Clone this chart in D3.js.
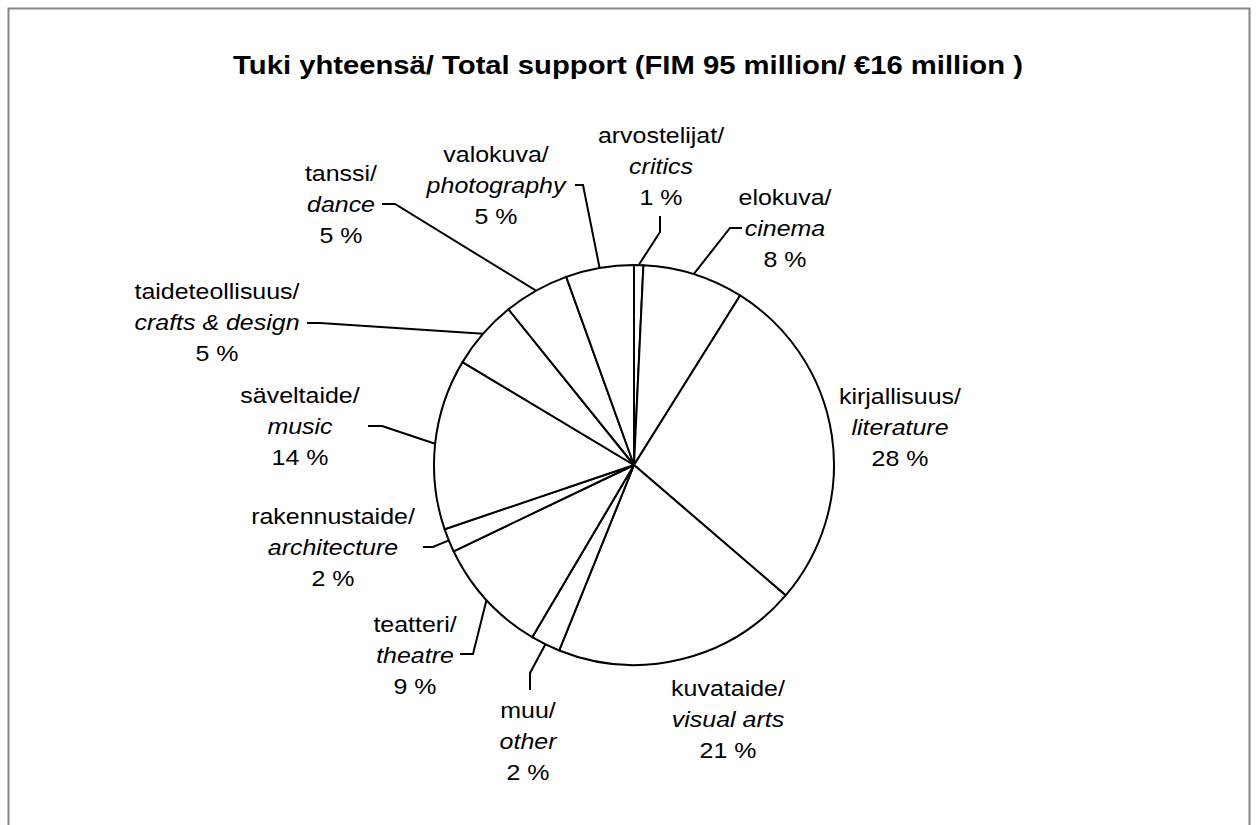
<!DOCTYPE html>
<html>
<head>
<meta charset="utf-8">
<script src="https://cdn.jsdelivr.net/npm/d3@7"></script>
<style>
    body { margin: 0; background: #fff; }
    text { font-family: "Liberation Sans", Arial, sans-serif; fill: #000; }
</style>
</head>
<body>
<div id="chart"></div>
<script>
// data
var categoriesFi = ["arvostelijat/", "elokuva/", "kirjallisuus/", "kuvataide/", "muu/", "teatteri/",
    "rakennustaide/", "säveltaide/", "taideteollisuus/", "tanssi/", "valokuva/"];
var categoriesEn = ["critics", "cinema", "literature", "visual arts", "other", "theatre",
    "architecture", "music", "crafts & design", "dance", "photography"];
var shares = [0.75, 8.15, 27.4, 19.8, 2.4, 9.4, 1.9, 13.8, 5.6, 5.3, 5.5];
var percentLabels = ["1 %", "8 %", "28 %", "21 %", "2 %", "9 %", "2 %", "14 %", "5 %", "5 %", "5 %"];

var svgWidth = 1258;
var svgHeight = 825;
var cx = 634, cy = 465, radius = 200;
var textScale = 1.11;

// label placement (centre x, baseline of the middle line) and leader start/elbow
var labelLayout = [
    { x: 661, y: 174, start: [660, 216], elbow: [660, 232] },
    { x: 785, y: 236, start: [742, 228], elbow: [730, 228] },
    { x: 900, y: 435, start: null },
    { x: 728, y: 727, start: null },
    { x: 528, y: 749, start: [530, 690], elbow: [530, 673] },
    { x: 415, y: 663, start: [460, 654], elbow: [473, 654] },
    { x: 333, y: 555, start: [423, 547], elbow: [433, 547] },
    { x: 300, y: 434, start: [368, 426], elbow: [382, 426] },
    { x: 217, y: 330, start: [307, 323], elbow: [320, 323] },
    { x: 341, y: 212, start: [382, 204], elbow: [395, 204] },
    { x: 496, y: 193, start: [575, 185], elbow: [583, 185] }
];

var svg = d3.select("#chart")
    .append("svg")
    .attr("width", svgWidth)
    .attr("height", svgHeight);

// outer frame
svg.append("rect")
    .attr("x", 8.5)
    .attr("y", 8.5)
    .attr("width", 1241)
    .attr("height", 840)
    .attr("fill", "none")
    .attr("stroke", "#858585")
    .attr("stroke-width", 2);

// title
svg.append("text")
    .attr("transform", "translate(628, 74) scale(1.17, 1)")
    .attr("text-anchor", "middle")
    .attr("font-size", "25px")
    .attr("font-weight", "bold")
    .text("Tuki yhteensä/ Total support (FIM 95 million/ €16 million )");

var pie = d3.pie().sort(null).value(d => d);
var arcs = pie(shares);

var arc = d3.arc().innerRadius(0).outerRadius(radius);
var rimArc = d3.arc().innerRadius(radius).outerRadius(radius);

var chartGroup = svg.append("g")
    .attr("transform", `translate(${cx}, ${cy})`);

chartGroup.selectAll("path")
    .data(arcs)
    .enter()
    .append("path")
    .attr("d", arc)
    .attr("fill", "#fff")
    .attr("stroke", "#000")
    .attr("stroke-width", 2)
    .attr("stroke-linejoin", "round");

// leader lines
arcs.forEach(function (d, i) {
    var lay = labelLayout[i];
    if (!lay.start) return;
    var p = rimArc.centroid(d);
    var pts = [lay.start, lay.elbow, [p[0] + cx, p[1] + cy]];
    svg.append("path")
        .attr("d", d3.line()(pts))
        .attr("fill", "none")
        .attr("stroke", "#000")
        .attr("stroke-width", 2);
});

// labels
var labels = svg.selectAll(".slice-label")
    .data(arcs)
    .enter()
    .append("g")
    .attr("class", "slice-label")
    .attr("transform", (d, i) => `translate(${labelLayout[i].x}, ${labelLayout[i].y}) scale(${textScale}, 1)`);

labels.append("text")
    .attr("text-anchor", "middle")
    .attr("y", -31.5)
    .attr("font-size", "22.5px")
    .text((d, i) => categoriesFi[i]);

labels.append("text")
    .attr("text-anchor", "middle")
    .attr("y", 0)
    .attr("font-size", "22.5px")
    .attr("font-style", "italic")
    .text((d, i) => categoriesEn[i]);

labels.append("text")
    .attr("text-anchor", "middle")
    .attr("y", 31.5)
    .attr("font-size", "22.5px")
    .text((d, i) => percentLabels[i]);
</script>
</body>
</html>
